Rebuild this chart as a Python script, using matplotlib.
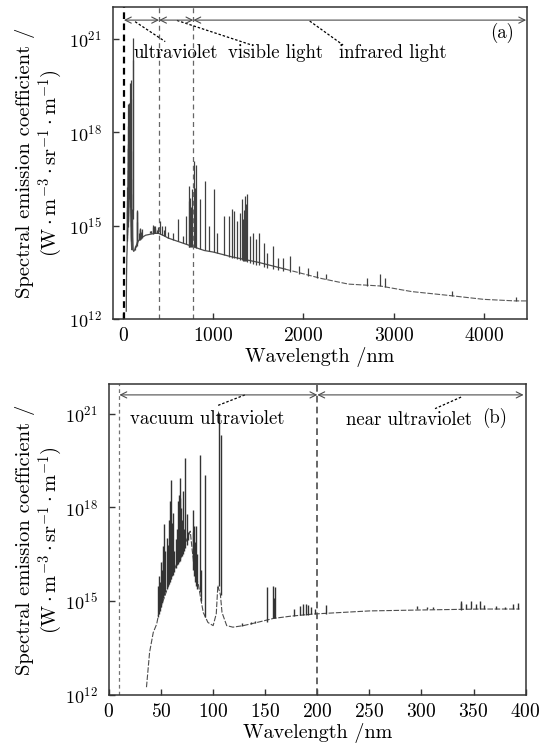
import numpy as np
import matplotlib
matplotlib.use("Agg")
import matplotlib.pyplot as plt

plt.rcParams['font.family'] = 'serif'
plt.rcParams['font.serif'] = ['cmr10']
plt.rcParams['mathtext.fontset'] = 'cm'
plt.rcParams['axes.formatter.use_mathtext'] = True
plt.rcParams['axes.unicode_minus'] = False

# continuum (wavelength nm, log10 of emission coefficient)
cont_wl = [36, 39, 42.5, 45.8, 48, 55, 62, 70, 78, 80, 83, 86, 88, 90.5, 95, 100,
           103, 104.5, 107, 108.5, 113, 119, 129, 142, 158, 174, 196, 250, 300,
           356, 394, 450, 500, 600, 700, 800, 900, 1000, 1200, 1500, 1800, 2000,
           2200, 2500, 2850, 3200, 3600, 4000, 4350, 4480]
cont_log = [12.25, 13.37, 14.0, 14.27, 14.64, 15.3, 15.95, 16.6, 17.24, 16.6, 15.9,
            15.5, 15.1, 14.64, 14.32, 14.22, 14.6, 15.5, 15.2, 14.64, 14.22, 14.17,
            14.22, 14.32, 14.45, 14.52, 14.59, 14.69, 14.72, 14.75, 14.75, 14.68,
            14.6, 14.5, 14.4, 14.3, 14.2, 14.15, 14.0, 13.82, 13.6, 13.45, 13.3,
            13.12, 13.06, 12.88, 12.76, 12.63, 12.58, 12.58]

# emission lines: wavelength, foot and top (log10)
line_wl = [47.5, 48.0, 48.8, 49.6, 50.5, 51.5, 52.2, 52.8, 54.0, 55.4, 56.3, 57.3,
           58.5, 59.5, 60.3, 61.1, 62.5, 64.0, 65.5, 66.3, 66.9, 67.9, 68.5, 69.1,
           70.0, 70.7, 72.0, 73.3, 74.6, 76.0, 80.3, 81.0, 81.6, 82.5, 83.5, 84.5,
           87.3, 88.5, 92.4, 105.9, 107.2, 128, 136, 140, 157.0, 158.3, 159.3,
           178, 183, 186, 189, 191, 194, 198, 296, 305, 311, 338, 343, 348, 352,
           356, 360, 372, 380, 388, 393,
           152, 208, 338, 412, 430, 450, 468, 500, 550, 606, 660, 700, 728, 735,
           745, 755, 765, 791, 800, 814, 858, 914, 951, 1014, 1044, 1118, 1174,
           1211, 1230, 1267, 1300, 1323, 1335, 1340, 1349, 1360, 1371, 1408, 1442,
           1472, 1508, 1564, 1602, 1658, 1713, 1769, 1851, 1950, 2050, 2150, 2250,
           2700, 2850, 2900, 3650, 4360]
line_lo = [14.5, 14.6, 14.7, 14.8, 14.95, 15.1, 15.15, 15.2, 15.3, 15.4, 15.5, 15.55,
           15.6, 15.7, 15.8, 15.85, 15.95, 16.05, 16.15, 16.2, 16.25, 16.3, 16.35, 16.4,
           16.45, 16.5, 16.6, 16.7, 16.8, 16.95, 16.3, 16.0, 15.8, 15.6, 15.5, 15.4,
           15.3, 15.0, 14.5, 15.5, 15.2, 14.22, 14.27, 14.3, 14.45, 14.45, 14.45,
           14.53, 14.55, 14.56, 14.57, 14.57, 14.58, 14.59, 14.75, 14.75, 14.75, 14.75,
           14.75, 14.75, 14.75, 14.75, 14.75, 14.75, 14.75, 14.75, 14.75,
           14.35, 14.6, 14.72, 14.72, 14.7, 14.68, 14.68, 14.6, 14.55, 14.5, 14.45,
           14.4, 14.3, 14.3, 14.3, 14.3, 14.3, 14.3, 14.3, 14.28, 14.25, 14.2, 14.18,
           14.15, 14.13, 14.05, 14.0, 13.95, 13.95, 13.92, 13.9, 13.88, 13.87, 13.87,
           13.86, 13.85, 13.84, 13.8, 13.77, 13.74, 13.72, 13.68, 13.65, 13.62, 13.58,
           13.55, 13.5, 13.45, 13.38, 13.32, 13.27, 13.07, 13.06, 13.04, 12.74, 12.58]
line_hi = [15.5, 15.81, 15.6, 16.24, 16.0, 16.77, 16.3, 17.46, 16.6, 17.03, 16.8, 17.61,
           18.2, 18.89, 17.5, 17.83, 16.6, 17.0, 17.3, 18.2, 18.41, 18.94, 18.3, 17.99,
           17.6, 18.52, 17.3, 19.58, 17.8, 17.2, 17.93, 17.2, 17.4, 16.9, 17.4, 16.5,
           19.68, 16.0, 19.05, 21.01, 20.32, 14.3, 14.35, 14.38, 15.49, 15.1, 15.44,
           14.75, 14.85, 14.9, 14.92, 14.88, 14.8, 14.75, 14.84, 14.83, 14.82, 14.95,
           14.9, 15.0, 14.92, 15.0, 14.88, 14.85, 14.82, 14.9, 14.95,
           15.46, 14.88, 15.02, 15.14, 15.0, 14.85, 14.98, 14.8, 14.75, 15.2, 14.65,
           15.3, 16.27, 15.8, 15.9, 15.6, 16.16, 17.07, 16.2, 16.96, 15.84, 16.43,
           14.98, 16.16, 14.77, 15.3, 15.3, 15.52, 15.46, 15.14, 15.4, 15.84, 15.2,
           15.5, 15.95, 15.7, 16.0, 14.66, 14.77, 14.56, 14.77, 14.45, 14.13, 14.34,
           13.97, 13.97, 14.02, 13.7, 13.65, 13.55, 13.45, 13.3, 13.44, 13.3, 12.9, 12.72]

cont_wl = np.array(cont_wl)
cont_val = 10.0 ** np.array(cont_log)
line_wl = np.array(line_wl)
line_lo = 10.0 ** np.array(line_lo)
line_hi = 10.0 ** np.array(line_hi)

fig = plt.figure(figsize=(5.49, 7.47), dpi=100)
ax1 = fig.add_axes([0.206, 0.573, 0.754, 0.418])
ax2 = fig.add_axes([0.1985, 0.0696, 0.759, 0.4164])

FS = 13.5
ylab1 = "Spectral emission coefficient /"
ylab2 = r"$(\mathrm{W}\cdot\mathrm{m}^{-3}\cdot\mathrm{sr}^{-1}\cdot\mathrm{m}^{-1})$"
LEAD = dict(ls=(0, (2, 1.5)), color='k', lw=0.9)


def style_axes(ax, ytop):
    ax.set_yscale('log')
    ax.set_ylim(1e12, ytop)
    ax.set_yticks([1e12, 1e15, 1e18, 1e21])
    ax.minorticks_off()
    ax.tick_params(direction='in', length=4, width=1, color='0.2')
    ax.tick_params(axis='y', pad=8, labelsize=13)
    ax.tick_params(axis='x', pad=6, labelsize=14)
    for s in ax.spines.values():
        s.set_linewidth(1.1)
        s.set_color('0.2')
    ax.set_xlabel("Wavelength /nm", fontsize=14.5, labelpad=1)


def arrow(ax, x1, x2, y):
    ax.annotate('', xy=(x2, y), xytext=(x1, y),
                arrowprops=dict(arrowstyle='<->', lw=0.8, color='0.3',
                                shrinkA=0, shrinkB=0, mutation_scale=11))


# ---- panel (a)
top_mask = cont_wl <= 1800
ax1.plot(cont_wl[top_mask], cont_val[top_mask], color='0.3', lw=0.9)
ax1.plot(cont_wl[cont_wl >= 1800], cont_val[cont_wl >= 1800], color='0.35', lw=0.8,
         ls=(0, (5, 1.5)))
ax1.vlines(line_wl, line_lo, line_hi, color='0.25', lw=0.9)
ax1.axvline(10, color='k', lw=1.6, ls=(0, (3, 2)))
ax1.axvline(400, color='0.4', lw=0.9, ls=(0, (4, 3)))
ax1.axvline(780, color='0.4', lw=0.9, ls=(0, (4, 3)))
style_axes(ax1, 10 ** 22.03)
ax1.set_xlim(-110, 4480)
ax1.set_xticks([0, 1000, 2000, 3000, 4000])

ya = 10 ** 21.6
arrow(ax1, 10, 400, ya)
arrow(ax1, 400, 780, ya)
arrow(ax1, 780, 4470, ya)
ax1.plot([134, 468], [10 ** 21.55, 10 ** 20.91], **LEAD)
ax1.plot([598, 1416], [10 ** 21.59, 10 ** 20.81], **LEAD)
ax1.plot([2070, 2440], [10 ** 21.57, 10 ** 20.8], **LEAD)
ax1.text(580, 10 ** 20.54, "ultraviolet", fontsize=FS, ha='center', va='center')
ax1.text(1695, 10 ** 20.54, "visible light", fontsize=FS, ha='center', va='center')
ax1.text(2988, 10 ** 20.54, "infrared light", fontsize=FS, ha='center', va='center')
ax1.text(4203, 10 ** 21.2, "(a)", fontsize=FS, ha='center', va='center')

# ---- panel (b)
bmask = cont_wl <= 420
ax2.plot(cont_wl[bmask], cont_val[bmask], color='0.3', lw=0.8, ls=(0, (5, 1.5)))
ax2.vlines(line_wl, line_lo, line_hi, color='0.2', lw=1.0)
ax2.axvline(10, color='0.45', lw=0.9, ls=(0, (3, 2.5)))
ax2.axvline(200, color='0.3', lw=1.2, ls=(0, (4, 2.5)))
style_axes(ax2, 10 ** 21.95)
ax2.set_xlim(0, 400)
ax2.set_xticks(np.arange(0, 401, 50))

arrow(ax2, 10, 200, ya)
arrow(ax2, 200, 398, ya)
ax2.plot([130.5, 103.6], [10 ** 21.6, 10 ** 21.25], **LEAD)
ax2.plot([338, 313], [10 ** 21.53, 10 ** 21.16], **LEAD)
ax2.text(94.5, 10 ** 20.82, "vacuum ultraviolet", fontsize=FS, ha='center', va='center')
ax2.text(288, 10 ** 20.8, "near ultraviolet", fontsize=FS, ha='center', va='center')
ax2.text(370, 10 ** 20.85, "(b)", fontsize=FS, ha='center', va='center')

# y labels, two lines each
for yc in (1 - 163 / 747, 1 - 540 / 747):
    fig.text(25 / 549, yc, ylab1, rotation=90, ha='center', va='center', fontsize=14.8)
    fig.text(51 / 549, yc, ylab2, rotation=90, ha='center', va='center', fontsize=14.8)

fig.savefig("out.png", dpi=100)
